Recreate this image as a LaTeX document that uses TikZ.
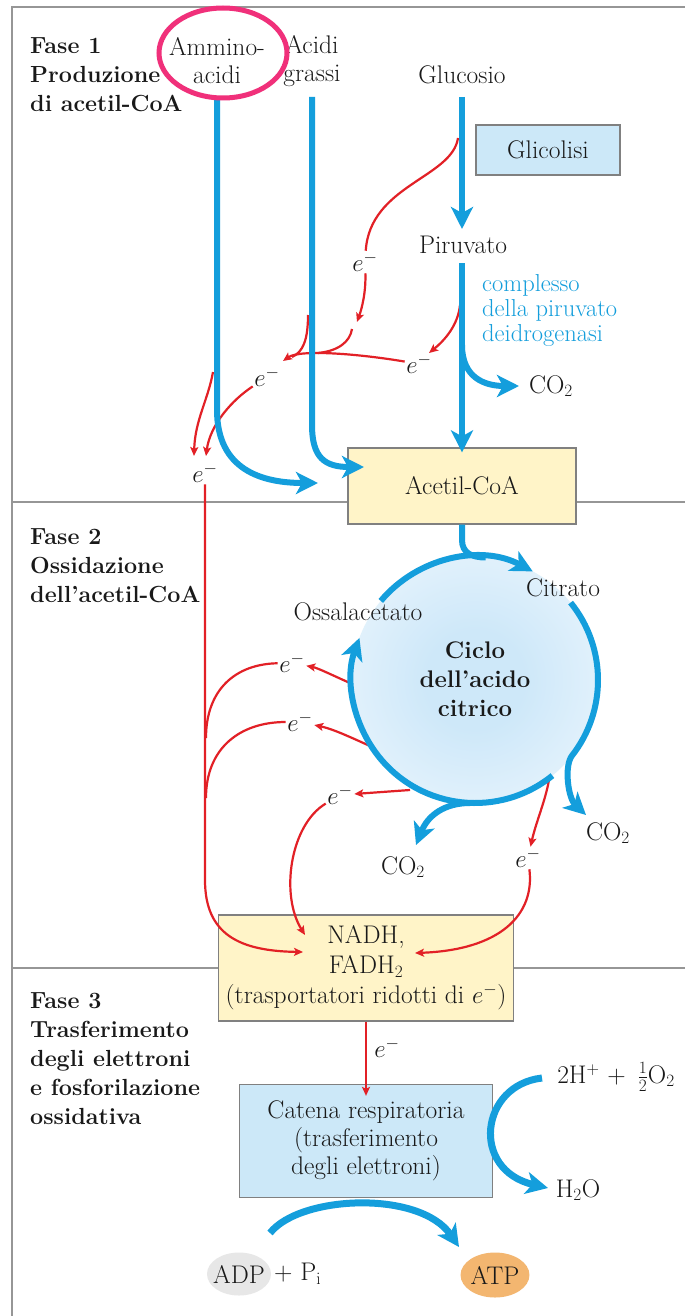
\documentclass[tikz,border=0pt]{standalone}
\usetikzlibrary{arrows.meta,calc,shapes.geometric}
\definecolor{bl}{RGB}{20,158,220}
\definecolor{rd}{RGB}{226,32,38}
\definecolor{fr}{RGB}{150,150,150}
\definecolor{bx}{RGB}{128,128,128}
\definecolor{yel}{RGB}{255,244,200}
\definecolor{lbl}{RGB}{204,232,248}
\definecolor{pk}{RGB}{240,48,122}
\definecolor{atpc}{RGB}{243,182,112}
\definecolor{adpc}{RGB}{231,231,231}
\definecolor{cycbl}{RGB}{206,232,249}
\definecolor{txt}{RGB}{25,25,25}
\pgfdeclareradialshading{cycshade}{\pgfpointorigin}{color(0bp)=(cycbl); color(10bp)=(cycbl); color(50bp)=(white)}
\begin{document}
\begin{tikzpicture}[x=1pt,y=-1pt,
 lab/.style={font=\fontsize{25.5}{28}\selectfont, inner sep=0pt, align=center, text=txt},
 fase/.style={font=\bfseries\fontsize{23.3}{29}\selectfont, inner sep=0pt, align=left, anchor=north west, text=txt},
 elec/.style={font=\fontsize{24}{26}\selectfont, inner sep=1.5pt, text=txt},
 boxy/.style={draw=bx, line width=1.3pt, fill=yel, inner sep=0pt},
 boxb/.style={draw=bx, line width=1.3pt, fill=lbl, inner sep=0pt},
 frameline/.style={draw=fr, line width=1.8pt},
 bluarr/.style={draw=bl, line width=6pt, -{Stealth[length=22pt,width=22pt,inset=6pt]}},
 blu/.style={draw=bl, line width=6pt},
 redarr/.style={draw=rd, line width=2.2pt, -{Stealth[length=9pt,width=8pt,inset=2pt]}},
 redl/.style={draw=rd, line width=2.2pt},
]
\useasboundingbox (0,0) rectangle (685,1316);
\fill[white] (0,0) rectangle (685,1316);
% frame
\draw[frameline] (12,1316) -- (12,7) -- (685,7);
\draw[frameline] (12,502) -- (685,502);
\draw[frameline] (12,968) -- (685,968);

% phase labels
\node[fase] (f1) at (30,37) {Fase 1\\Produzione\\di acetil-CoA};
\node[fase] (f2) at (30,528) {Fase 2\\Ossidazione\\dell'acetil-CoA};
\node[fase] (f3) at (30,992) {Fase 3\\Trasferimento\\degli elettroni\\e fosforilazione\\ossidativa};

% top labels
\node[lab] (amm) at (217,61) {Ammino-\\acidi};
\node[lab] (ag) at (312,61) {Acidi\\grassi};
\node[lab] (glu) at (462,75) {Glucosio};
\node[boxb, lab, minimum width=144pt, minimum height=50pt] (glic) at (548,150) {Glicolisi};
\node[lab] (piru) at (463,245) {Piruvato};
\node[lab, text=bl, align=left, anchor=west, font=\fontsize{24.5}{25}\selectfont] (cplx) at (482,310) {complesso\\della piruvato\\deidrogenasi};
\node[lab] (co2a) at (551,386) {CO$_2$};
\coordinate (y97) at (0,97);
\coordinate (y229) at (0,229);
\coordinate (y263) at (0,263);

% cycle
\coordinate (cc) at (475,680);
\node[circle, shade, shading=cycshade, minimum size=246pt, inner sep=0pt] (cyc) at (cc) {};
\node[lab, font=\bfseries\fontsize{24}{29}\selectfont] (cl) at (475,679) {Ciclo\\dell'acido\\citrico};
\node[lab] (citr) at (563,588) {Citrato};
\node[lab] (ossa) at (358,612) {Ossalacetato};
\node[lab] (co2b) at (608,833) {CO$_2$};
\node[lab] (co2c) at (403,867) {CO$_2$};

% boxes
\node[boxy, lab, minimum width=228pt, minimum height=76pt] (acet) at (462,486) {Acetil-CoA};
\node[boxy, lab, minimum width=295pt, minimum height=106pt, font=\fontsize{25.5}{30}\selectfont] (nadh) at (366,968) {NADH,\\FADH$_2$\\(trasportatori ridotti di $e^-$)};
\node[boxb, lab, minimum width=253pt, minimum height=113pt] (cat) at (366,1141) {Catena respiratoria\\(trasferimento\\degli elettroni)};

% electrons
\node[elec] (e1) at (365,262) {$e^-$};
\node[elec] (e2) at (419,364) {$e^-$};
\node[elec] (e3) at (267,377) {$e^-$};
\node[elec] (e4) at (205,473) {$e^-$};
\node[elec] (e5) at (292,663) {$e^-$};
\node[elec] (e6) at (300,722) {$e^-$};
\node[elec] (e7) at (340,795) {$e^-$};
\node[elec] (e8) at (528,858) {$e^-$};
\node[elec] (e9) at (387,1048) {$e^-$};

% red electron paths
\draw[redl] (458,138) .. controls (452,178) and (370,185) .. (e1);
\draw[redarr] (e1) .. controls (366,292) and (362,308) .. (357,322);
\draw[redl] (352,329) .. controls (350,342) and (338,351) .. (318,353);
\draw[redarr] (e2) .. controls (360,354) and (300,349) .. (283,361);
\draw[redl] (308,315) .. controls (308,340) and (303,352) .. (292,357);
\draw[redarr] (460,305) .. controls (458,325) and (445,340) .. (429,353);
\draw[redarr] (e3) .. controls (232,400) and (210,425) .. (206,456);
\draw[redarr] (213,372) .. controls (208,400) and (195,420) .. (194,456);
\draw[redarr] (e4) -- (205,880) .. controls (205,935) and (240,951) .. (303,952);
\draw[redarr] (350,683) .. controls (334,676) and (318,668) .. (e5);
\draw[redl] (e5) .. controls (235,664) and (206,690) .. (206,738);
\draw[redarr] (370,746) .. controls (350,737) and (333,729) .. (e6);
\draw[redl] (e6) .. controls (240,722) and (206,748) .. (206,798);
\draw[redarr] (410,790) -- (e7);
\draw[redarr] (e7) .. controls (290,825) and (280,895) .. (305,935);
\draw[redarr] (549,780) .. controls (545,802) and (536,822) .. (e8);
\draw[redarr] (e8) .. controls (535,915) and (500,950) .. (415,953);
\draw[redarr] (nadh.south) -- ([yshift=-12pt]cat.north);

% blue main flows
\draw[bluarr] (amm.south |- y97) -- (217,410) .. controls (217,470) and (262,483) .. (318,483);
\draw[bluarr] (ag.south |- y97) -- (312,425) .. controls (312,458) and (325,467) .. (364,467);
\draw[bluarr] (glu.south |- y97) -- (glu.south |- y229);
\draw[bluarr] (glu.south |- y263) -- ([yshift=-5pt]acet.north);
\coordinate (pb) at (462,345);
\draw[bluarr] (pb) .. controls (462,378) and (485,386) .. (519,386);

% cycle arcs
\draw[blu] (acet.south) -- (462,540) .. controls (462,553) and (472,557.5) .. ($(cc)+(-85:123)$);
\draw[bluarr] ($(cc)+(-140:123)$) arc[start angle=-140, end angle=-62, radius=123];
\draw[bluarr] ($(cc)+(-39:123)$) arc[start angle=-39, end angle=38, radius=123] .. controls (564,766) and (568,798) .. (586,815);
\draw[bluarr] ($(cc)+(51:123)$) arc[start angle=51, end angle=200, radius=123];
\draw[bluarr] (470,803) .. controls (445,803) and (428,815) .. (416,845);

% phase 3
\node[lab] (o2) at (616,1077) {2H$^+$ +\, $\frac{1}{2}$O$_2$};
\node[lab] (h2o) at (578,1190) {H$_2$O};
\node[ellipse, fill=adpc, minimum width=64pt, minimum height=43pt, inner sep=0pt] (adpe) at (239,1274) {};
\node[lab] (adp) at (239,1274) {ADP};
\node[lab, anchor=west] (pi) at (274,1274) {+ P$_\mathrm{i}$};
\node[ellipse, fill=atpc, minimum width=66pt, minimum height=45pt, inner sep=0pt, lab] (atp) at (495,1275) {ATP};
\draw[bluarr, line width=7pt] (542,1078) .. controls (480,1085) and (470,1170) .. (548,1188);
\draw[bluarr, line width=7pt] (270,1233) .. controls (300,1195) and (420,1190) .. (459,1247);

% highlight
\node[draw=pk, line width=5pt, ellipse, minimum width=128pt, minimum height=90pt] (hl) at (223,53) {};
\end{tikzpicture}
\end{document}
